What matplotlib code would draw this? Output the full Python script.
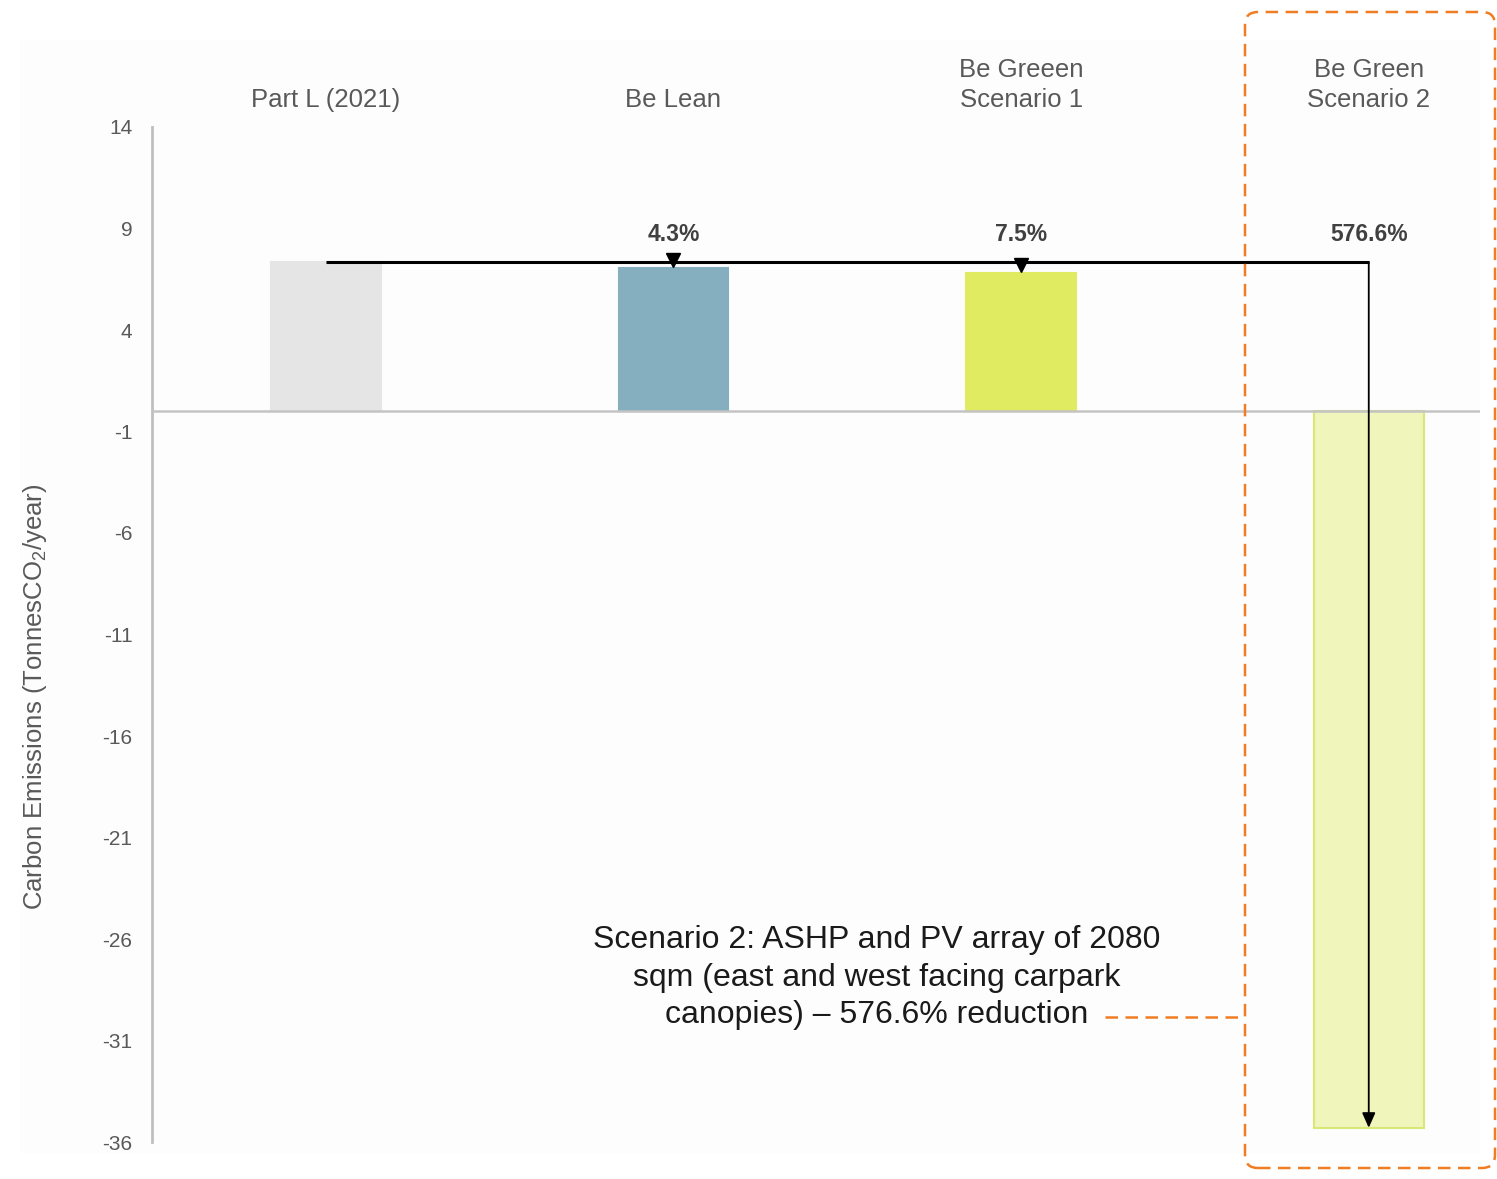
import matplotlib
matplotlib.use("Agg")
import matplotlib.pyplot as plt
from matplotlib.patches import FancyBboxPatch, Rectangle
from matplotlib.lines import Line2D
import matplotlib.transforms as mtransforms

plt.rcParams['font.family'] = ['Liberation Sans', 'DejaVu Sans']
plt.rcParams['mathtext.default'] = 'regular'

# data
categories = ["Part L (2021)", "Be Lean", "Be Greeen\nScenario 1", "Be Green\nScenario 2"]
emissions = [7.35, 7.05, 6.82, -35.3]
reductions = ["", "4.3%", "7.5%", "576.6%"]
bar_colors = ["#e5e5e5", "#85aebe", "#e0eb62", "#eff5bb"]
edge_colors = ["#e5e5e5", "#85aebe", "#e0eb62", "#d9e874"]
yticks = [14, 9, 4, -1, -6, -11, -16, -21, -26, -31, -36]
note = ("Scenario 2: ASHP and PV array of 2080\n"
        "sqm (east and west facing carpark\n"
        "canopies) \u2013 576.6% reduction")

grey = "#595959"
orange = "#f07d23"

fig = plt.figure(figsize=(14.97, 11.79), dpi=100, facecolor="white")
fig.patches.append(Rectangle((20 / 1497, 1 - 1153 / 1179), 1460 / 1497, 1113 / 1179,
                             transform=fig.transFigure, facecolor="#fdfdfd",
                             edgecolor="none", zorder=-5))
ax = fig.add_axes([152 / 1497, 1 - 1142 / 1179, 1328 / 1497, 1015 / 1179])
ax.set_facecolor("none")
ax.set_zorder(2)

x = list(range(len(categories)))
ax.bar(x, emissions, width=0.315, color=bar_colors, edgecolor=edge_colors,
       linewidth=1.5, zorder=2)

ax.set_xlim(-0.5, 3.32)
ax.set_ylim(-36, 14)
ax.set_yticks(yticks)
ax.set_yticklabels([str(t) for t in yticks])
ax.set_xticks([])
ax.tick_params(axis="y", length=0, pad=14, labelsize=15, labelcolor=grey)
for s in ["top", "right", "bottom"]:
    ax.spines[s].set_visible(False)
ax.spines["left"].set_color("#bfbfbf")
ax.spines["left"].set_linewidth(2)
ax.axhline(0, color="#c4c4c4", lw=1.8, zorder=3)

# category labels above the plot
trans = mtransforms.blended_transform_factory(ax.transData, ax.transAxes)
for xi, cat in zip(x, categories):
    ax.text(xi, 1.015, cat, transform=trans, ha="center", va="bottom",
            fontsize=18.5, color=grey, linespacing=1.3)

# percentage labels
for xi, r in zip(x, reductions):
    if r:
        ax.text(xi, 8.7, r, ha="center", va="center", fontsize=16.5,
                fontweight="bold", color="#404040")

# reference line from Part L and arrows
base = emissions[0]
ax.plot([x[0], x[-1]], [base, base], color="black", lw=2.2, zorder=4,
        solid_capstyle="butt")
for xi, v in zip(x[1:3], emissions[1:3]):
    ax.plot(xi, v + 0.38, marker="v", color="black", markersize=10, zorder=5)
ax.annotate("", xy=(x[-1], emissions[-1]), xytext=(x[-1], base),
            arrowprops=dict(arrowstyle="-|>,head_length=0.9,head_width=0.4",
                            color="black", lw=1.3, shrinkA=0, shrinkB=0),
            zorder=5)

ax.text(1.585, -27.9, note, ha="center", va="center", fontsize=23,
        color="#1a1a1a", linespacing=1.34)

fig.text(35 / 1497, 1 - 697 / 1179, "Carbon Emissions (TonnesCO$_2$/year)",
         rotation=90, ha="center", va="center", fontsize=18.5, color=grey)

# orange highlight box and leader
fig.patches.append(FancyBboxPatch((12.45, 0.11), 2.5, 11.56,
                                  boxstyle="round,pad=0,rounding_size=0.13",
                                  transform=fig.dpi_scale_trans, fill=False,
                                  edgecolor=orange, lw=1.8, linestyle=(0, (5, 3)),
                                  zorder=6))
fig.lines.append(Line2D([11.05, 12.45], [1.62, 1.62], transform=fig.dpi_scale_trans,
                        color=orange, lw=1.8, linestyle=(0, (5, 3)), zorder=6))

fig.savefig("out.png", dpi=100, facecolor="white")
